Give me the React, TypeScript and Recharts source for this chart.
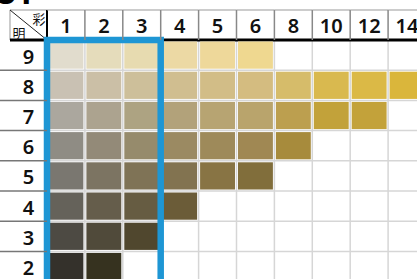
import { ScatterChart, Scatter, XAxis, YAxis, ReferenceLine, ReferenceArea } from "recharts";

// chroma (彩) columns and value (明) rows
const chromaLabels = ["1", "2", "3", "4", "5", "6", "8", "10", "12", "14", "16"];
const valueTicks = [9, 8, 7, 6, 5, 4, 3, 2];

// swatch colours per value row, from chroma 1 outwards
const row9 = ["#e1dccd", "#e5dcbb", "#e7dbb0", "#ecd9a4", "#eed89a", "#efd890"];
const row8 = ["#c9c1b3", "#cbbfa6", "#cdbf9a", "#d0be90", "#d2bd87", "#d4bc80", "#d6bc6a", "#d9b94f", "#dbb946", "#dab63b"];
const row7 = ["#aba79e", "#aca38f", "#ada382", "#b2a27a", "#b7a472", "#b9a46c", "#bc9f4f", "#c2a23a", "#c3a23a"];
const row6 = ["#8f8c84", "#938a78", "#968b6c", "#9b8a62", "#9e8a5a", "#a08853", "#a78b3c"];
const row5 = ["#7a7770", "#7c7462", "#7f7356", "#827350", "#887444", "#816e3b"];
const row4 = ["#65625a", "#655d4b", "#665c42", "#6b5c38"];
const row3 = ["#4d4a43", "#504a3a", "#50472e"];
const row2 = ["#34312b", "#36321f"];

const rows = [
  { v: 9, colors: row9 },
  { v: 8, colors: row8 },
  { v: 7, colors: row7 },
  { v: 6, colors: row6 },
  { v: 5, colors: row5 },
  { v: 4, colors: row4 },
  { v: 3, colors: row3 },
  { v: 2, colors: row2 },
];

const COL_W = 37.9;
const ROW_H = 30.2;
const LEFT = 10;
const TOP = 10;
const LABEL_W = 37;
const HEAD_H = 30;
const N_COLS = chromaLabels.length;
const N_ROWS = 9;
const WIDTH = LEFT + LABEL_W + COL_W * N_COLS;
const HEIGHT = 320;
const FONT = "'Noto Sans', sans-serif";
const CJK = "'Noto Sans CJK JP', sans-serif";

const CellShape = (props: any) => {
  const { cx, cy, payload } = props;
  return (
    <rect
      x={cx - COL_W / 2 + 1.5}
      y={cy - ROW_H / 2 + 1.5}
      width={COL_W - 3}
      height={ROW_H - 3}
      fill={payload.color}
    />
  );
};

const FrameShape = (props: any) => (
  <rect
    x={props.x}
    y={props.y}
    width={props.width}
    height={props.height}
    fill="none"
    stroke="#1e96d4"
    strokeWidth={6.5}
  />
);

const HeaderTick = ({ x, payload }: any) => (
  <g>
    <line x1={x - COL_W / 2} x2={x + COL_W / 2} y1={TOP} y2={TOP} stroke="#999" strokeWidth={1} />
    <line x1={x + COL_W / 2} x2={x + COL_W / 2} y1={TOP} y2={TOP + HEAD_H} stroke="#888" strokeWidth={1.5} />
    <text
      x={x}
      y={TOP + HEAD_H / 2 + 1}
      textAnchor="middle"
      dominantBaseline="central"
      fontFamily={FONT}
      fontWeight={600}
      fontSize={20}
      fill="#111"
    >
      {chromaLabels[payload.value]}
    </text>
  </g>
);

const RowTick = ({ y, payload }: any) => (
  <g>
    <line x1={0} x2={LEFT + LABEL_W} y1={y + ROW_H / 2} y2={y + ROW_H / 2} stroke="#777" strokeWidth={1.5} />
    <text
      x={LEFT + LABEL_W / 2}
      y={y + 1}
      textAnchor="middle"
      dominantBaseline="central"
      fontFamily={FONT}
      fontWeight={600}
      fontSize={20}
      fill="#111"
    >
      {payload.value}
    </text>
  </g>
);

export default function App() {
  const colBounds = Array.from({ length: N_COLS }, (_, i) => i + 0.5);
  const rowBounds = Array.from({ length: N_ROWS - 1 }, (_, i) => i + 1.5);

  return (
    <div style={{ position: "absolute", left: 0, top: 0, width: 417, height: 279, overflow: "hidden", background: "#fff" }}>
      <ScatterChart
        width={WIDTH}
        height={HEIGHT}
        margin={{ top: TOP, right: 0, left: LEFT, bottom: HEIGHT - TOP - HEAD_H - ROW_H * N_ROWS }}
      >
        <XAxis
          type="number"
          dataKey="ci"
          orientation="top"
          domain={[-0.5, N_COLS - 0.5]}
          ticks={chromaLabels.map((_, i) => i)}
          interval={0}
          height={HEAD_H}
          tick={<HeaderTick />}
          tickLine={false}
          axisLine={{ stroke: "#000", strokeWidth: 3 }}
        />
        <YAxis
          type="number"
          dataKey="v"
          domain={[0.5, 9.5]}
          ticks={valueTicks}
          interval={0}
          width={LABEL_W}
          tick={<RowTick />}
          tickLine={false}
          axisLine={{ stroke: "#000", strokeWidth: 2 }}
        />
        {colBounds.map((b) => (
          <ReferenceLine key={"c" + b} x={b} stroke="#d6d6d6" strokeWidth={1.5} />
        ))}
        {rowBounds.map((b) => (
          <ReferenceLine key={"r" + b} y={b} stroke="#d6d6d6" strokeWidth={1.5} />
        ))}
        {rows.map((r) => (
          <Scatter
            key={r.v}
            data={r.colors.map((color, i) => ({ ci: i, v: r.v, color }))}
            shape={<CellShape />}
            isAnimationActive={false}
          />
        ))}
        <ReferenceArea
          x1={-0.5}
          x2={2.5}
          y1={0.5}
          y2={9.5}
          ifOverflow="visible"
          shape={<FrameShape />}
          {...({ zIndex: 1500 } as any)}
        />
        <g>
          <text x={-2} y={4} fontFamily={FONT} fontWeight={700} fontSize={32} fill="#000">5Y</text>
          <line x1={LEFT} y1={TOP} x2={LEFT + LABEL_W} y2={TOP} stroke="#999" strokeWidth={1} />
          <line x1={LEFT} y1={TOP} x2={LEFT} y2={TOP + HEAD_H} stroke="#999" strokeWidth={1} />
          <line x1={LEFT} y1={TOP} x2={LEFT + LABEL_W} y2={TOP + HEAD_H} stroke="#222" strokeWidth={1} />
          <line x1={LEFT + LABEL_W} y1={TOP} x2={LEFT + LABEL_W} y2={TOP + HEAD_H} stroke="#000" strokeWidth={2} />
          <line x1={LEFT} y1={TOP + HEAD_H} x2={LEFT + LABEL_W} y2={TOP + HEAD_H} stroke="#000" strokeWidth={3} />
          <text x={LEFT + 29} y={TOP + 14} textAnchor="middle" fontFamily={CJK} fontSize={13} fill="#111">彩</text>
          <text x={LEFT + 9} y={TOP + 28} textAnchor="middle" fontFamily={CJK} fontSize={13} fill="#111">明</text>
        </g>
      </ScatterChart>
    </div>
  );
}
